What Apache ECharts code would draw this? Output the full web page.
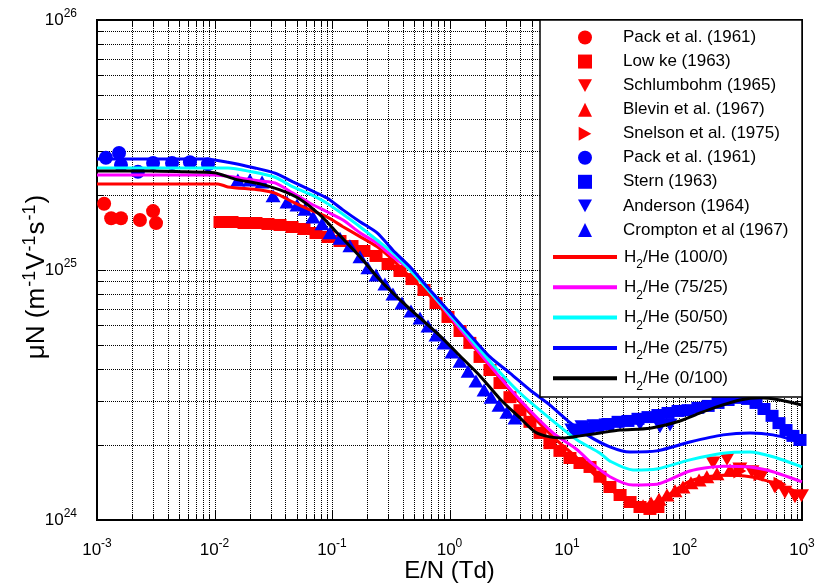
<!DOCTYPE html>
<html><head><meta charset="utf-8">
<script src="https://cdn.jsdelivr.net/npm/echarts@6/dist/echarts.min.js"></script>
<style>html,body{margin:0;padding:0;background:#fff}#c{width:817px;height:585px}</style>
</head><body><div id="c"></div>
<script>
// ---------- data (E/N in Td, muN in m^-1 V^-1 s^-1) ----------
const packRed = [[1.15e-3,1.84e25],[1.32e-3,1.61e25],[1.60e-3,1.61e25],[2.32e-3,1.585e25],[3.0e-3,1.72e25],[3.18e-3,1.54e25]];
const lowke = [[0.01114,1.556e25],[0.01409,1.556e25],[0.01782,1.542e25],[0.02254,1.542e25],[0.0285,1.528e25],[0.0361,1.514e25],[0.0457,1.486e25],[0.0578,1.459e25],[0.0731,1.406e25],[0.0925,1.355e25],[0.117,1.306e25],[0.148,1.247e25],[0.187,1.191e25],[0.237,1.138e25],[0.300,1.057e25],[0.379,9.91e24],[0.480,9.20e24],[0.607,8.32e24],[0.768,7.38e24],[0.971,6.49e24],[1.23,5.70e24],[1.49,5.11e24],[1.82,4.49e24],[2.21,3.98e24],[2.69,3.53e24],[3.27,3.10e24],[3.98,2.75e24],[4.84,2.47e24],[5.89,2.23e24],[7.16,2.03e24],[8.71,1.89e24],[10.6,1.77e24],[12.9,1.69e24],[15.7,1.63e24],[19.1,1.49e24],[23.2,1.355e24],[28.3,1.259e24],[34.4,1.18e24],[41.8,1.127e24],[50.8,1.107e24],[59.4,1.127e24]];
const schlumbohm = [[175,1.69e24],[230,1.75e24],[296,1.60e24],[375,1.56e24],[457,1.51e24],[589,1.355e24],[716,1.29e24],[871,1.24e24],[990,1.25e24]];
const blevin = [[44.4,1.14e24],[51.9,1.17e24],[60.7,1.21e24],[71.0,1.259e24],[83.0,1.31e24],[97.1,1.355e24],[113.5,1.41e24],[133,1.445e24],[155,1.49e24],[189,1.53e24],[244,1.585e24]];
const snelson = [[296,1.57e24],[439,1.53e24],[650,1.39e24]];
const packBlue = [[1.19e-3,2.81e25],[1.54e-3,2.94e25],[1.60e-3,2.63e25],[2.23e-3,2.47e25],[3.0e-3,2.68e25],[4.35e-3,2.68e25],[6.18e-3,2.70e25],[8.8e-3,2.65e25]];
const stern = [[12.4,2.29e24],[15.1,2.33e24],[18.4,2.38e24],[22.3,2.42e24],[27.2,2.47e24],[33.0,2.49e24],[40.2,2.54e24],[48.9,2.58e24],[59.4,2.63e24],[72.4,2.68e24],[88.1,2.73e24],[107,2.75e24],[130,2.81e24],[159,2.86e24],[193,2.94e24],[235,3.02e24],[285,3.08e24],[347,3.05e24],[406,2.94e24],[475,2.78e24],[556,2.61e24],[637,2.44e24],[731,2.29e24],[838,2.17e24],[962,2.09e24]];
const anderson = [[11.0,2.29e24],[13.4,2.36e24],[17.0,2.38e24],[21.5,2.40e24],[28.3,2.44e24],[41.8,2.42e24],[61.8,2.36e24],[75.3,2.40e24]];
const crompton = [[0.0158,2.29e25],[0.0200,2.29e25],[0.0254,2.25e25],[0.0315,1.98e25],[0.0414,1.87e25],[0.0504,1.82e25],[0.0589,1.75e25],[0.0689,1.63e25],[0.0822,1.53e25],[0.0962,1.41e25],[0.117,1.34e25],[0.142,1.25e25],[0.173,1.13e25],[0.202,1.02e25],[0.237,9.55e24],[0.282,8.79e24],[0.330,8.02e24],[0.394,7.38e24],[0.470,6.85e24],[0.561,6.43e24],[0.656,5.97e24],[0.768,5.50e24],[0.898,5.11e24],[1.05,4.70e24],[1.23,4.32e24],[1.44,3.94e24],[1.68,3.60e24],[1.97,3.31e24],[2.26,3.10e24],[2.64,2.88e24],[3.08,2.70e24],[3.61,2.56e24]];

const mix100 = [[1e-3,2.21e25],[0.0107,2.21e25],[0.0130,2.15e25],[0.0244,2.09e25],[0.0327,2.03e25],[0.0466,1.87e25],[0.065,1.74e25],[0.0906,1.63e25],[0.124,1.49e25],[0.173,1.36e25],[0.241,1.24e25],[0.330,1.096e25],[0.461,9.38e24],[0.682,7.87e24],[1.07,6.19e24],[2.08,4.25e24],[3.98,2.96e24],[7.6,2.15e24],[12.2,1.77e24],[19.1,1.445e24],[28.3,1.24e24],[41.8,1.148e24],[61.8,1.20e24],[111,1.43e24],[213,1.51e24],[361,1.49e24],[566,1.41e24],[1000,1.27e24]];
const mix75 = [[1e-3,2.40e25],[0.01,2.40e25],[0.0149,2.35e25],[0.0244,2.27e25],[0.0327,2.23e25],[0.0466,2.03e25],[0.065,1.85e25],[0.0906,1.71e25],[0.124,1.585e25],[0.173,1.41e25],[0.241,1.28e25],[0.330,1.13e25],[0.461,1.0e25],[0.682,8.17e24],[1.07,6.31e24],[2.08,4.29e24],[3.98,3.02e24],[7.6,2.23e24],[12.2,1.91e24],[15.7,1.71e24],[23.2,1.49e24],[36.5,1.38e24],[58.3,1.39e24],[111,1.57e24],[213,1.64e24],[361,1.63e24],[566,1.56e24],[1000,1.42e24]];
const mix50 = [[1e-3,2.56e25],[0.0083,2.56e25],[0.0130,2.56e25],[0.0208,2.47e25],[0.0327,2.35e25],[0.0466,2.15e25],[0.065,2.01e25],[0.0906,1.85e25],[0.124,1.67e25],[0.173,1.49e25],[0.241,1.318e25],[0.330,1.17e25],[0.461,1.0e25],[0.682,8.17e24],[1.07,6.43e24],[2.08,4.45e24],[3.98,3.22e24],[7.6,2.49e24],[12.2,2.09e24],[19.1,1.85e24],[23.2,1.72e24],[36.5,1.585e24],[58.3,1.60e24],[111,1.74e24],[213,1.85e24],[361,1.87e24],[566,1.79e24],[1000,1.63e24]];
const mix25 = [[1e-3,2.78e25],[0.0083,2.78e25],[0.0130,2.70e25],[0.0221,2.56e25],[0.0327,2.44e25],[0.0466,2.25e25],[0.065,2.09e25],[0.0906,1.94e25],[0.124,1.74e25],[0.173,1.56e25],[0.241,1.41e25],[0.330,1.20e25],[0.461,1.03e25],[0.682,8.32e24],[1.30,5.92e24],[2.21,4.49e24],[3.27,3.87e24],[4.84,3.31e24],[7.16,2.88e24],[10,2.51e24],[14.8,2.19e24],[23.2,1.96e24],[34.4,1.87e24],[58.3,1.89e24],[111,2.05e24],[213,2.19e24],[361,2.23e24],[566,2.19e24],[1000,2.05e24]];
const mix0 = [[1e-3,2.49e25],[2.83e-3,2.49e25],[5.61e-3,2.47e25],[0.01,2.45e25],[0.0149,2.31e25],[0.0244,2.21e25],[0.0361,2.09e25],[0.0534,1.92e25],[0.079,1.66e25],[0.117,1.37e25],[0.173,1.13e25],[0.256,9.12e24],[0.379,7.59e24],[0.561,6.43e24],[0.83,5.45e24],[1.23,4.53e24],[1.82,3.77e24],[2.69,3.05e24],[3.98,2.56e24],[5.35,2.25e24],[7.16,2.15e24],[9.6,2.13e24],[12.9,2.17e24],[19.1,2.23e24],[28.3,2.29e24],[50.8,2.33e24],[91.6,2.49e24],[136,2.68e24],[200,2.86e24],[296,3.02e24],[439,3.08e24],[650,3.02e24],[1000,2.88e24]];

const markerNames = ['Pack et al. (1961)','Low ke (1963)','Schlumbohm (1965)','Blevin et al. (1967)','Snelson et al. (1975)','Pack et al. (1961) ','Stern (1963)','Anderson (1964)','Crompton et al (1967)'];
const lineNames = ['H2/He (100/0)','H2/He (75/25)','H2/He (50/50)','H2/He (25/75)','H2/He (0/100)'];
const xDecades = [-3,-2,-1,0,1,2,3];
const yDecades = [24,25,26];
const gridMultipliers = [1,2,3,4,5,6,7,8,9];

// ---------- chart ----------
const FONT = '"Liberation Sans", Arial, Helvetica, sans-serif';
const RED = '#ff0000', BLUE = '#0000ff';
const TRI_DOWN = 'path://M0,0L20,0L10,18Z';
const TRI_RIGHT = 'path://M0,0L18,10L0,20Z';
const X_MIN = 1e-3, X_MAX = 1e3, Y_MIN = 1e24, Y_MAX = 1e26;

function gridVals(decades) {
  const out = [];
  for (let i = 0; i < decades.length - 1; i++) {
    gridMultipliers.forEach(m => out.push([m * Math.pow(10, decades[i]), m === 1 ? 1 : 0]));
  }
  out.push([Math.pow(10, decades[decades.length - 1]), 1]);
  return out;
}
const xGrid = gridVals(xDecades).map(d => [d[0], Y_MIN, d[1]]);
const yGrid = gridVals(yDecades).map(d => [X_MIN, d[0], d[1]]);

const dotStyle = {stroke: '#000', lineWidth: 1, lineDash: [1, 1]};
const tickStyle = {stroke: '#000', lineWidth: 1};

function xGridItem(params, api) {
  const cs = params.coordSys;
  const x = Math.round(api.coord([api.value(0), Y_MIN])[0]) + 0.5;
  const len = api.value(2) ? 9 : 6;
  const b = cs.y + cs.height, t = cs.y;
  return {type: 'group', children: [
    {type: 'line', shape: {x1: x, y1: t, x2: x, y2: b}, style: dotStyle},
    {type: 'line', shape: {x1: x, y1: b, x2: x, y2: b - len}, style: tickStyle},
    {type: 'line', shape: {x1: x, y1: t, x2: x, y2: t + len}, style: tickStyle}
  ]};
}
function yGridItem(params, api) {
  const cs = params.coordSys;
  const y = Math.round(api.coord([X_MIN, api.value(1)])[1]) + 0.5;
  const len = api.value(2) ? 9 : 6;
  const l = cs.x, r = cs.x + cs.width;
  return {type: 'group', children: [
    {type: 'line', shape: {x1: l, y1: y, x2: r, y2: y}, style: dotStyle},
    {type: 'line', shape: {x1: l, y1: y, x2: l + len, y2: y}, style: tickStyle},
    {type: 'line', shape: {x1: r, y1: y, x2: r - len, y2: y}, style: tickStyle}
  ]};
}

function sc(name, data, symbol, color, size) {
  return {name, type: 'scatter', data, symbol, symbolSize: size, itemStyle: {color, opacity: 1},
    z: 3, silent: true, emphasis: {disabled: true}};
}
function ln(name, data, color) {
  return {name, type: 'line', data, showSymbol: false, symbol: 'none', smooth: 0.25,
    lineStyle: {color, width: 3}, itemStyle: {color}, z: 4, silent: true, emphasis: {disabled: true}};
}

const labelRich = {
  b: {fontSize: 17, fontFamily: FONT, color: '#000'},
  s: {fontSize: 12, fontFamily: FONT, color: '#000', padding: [0, 0, 12, 0]}
};
const expFmt = v => '{b|10}{s|' + Math.round(Math.log10(v)) + '}';

const markerIcons = ['circle', 'rect', TRI_DOWN, 'triangle', TRI_RIGHT, 'circle', 'rect', TRI_DOWN, 'triangle'];
const lineColors = [RED, '#ff00ff', '#00ffff', BLUE, '#000000'];

const option = {
  animation: false,
  backgroundColor: '#fff',
  grid: {left: 97, right: 15, top: 20, bottom: 65, show: true, borderColor: '#000', borderWidth: 2,
    backgroundColor: 'transparent', containLabel: false, outerBoundsMode: 'none'},
  xAxis: {
    type: 'log', logBase: 10, min: X_MIN, max: X_MAX, splitNumber: 6,
    axisLine: {show: true, onZero: false, lineStyle: {color: '#000', width: 2}},
    axisTick: {show: false}, splitLine: {show: false},
    axisLabel: {formatter: expFmt, rich: labelRich, margin: 18, showMinLabel: true, showMaxLabel: true},
    name: 'E/N (Td)', nameLocation: 'middle', nameGap: 39, nameMoveOverlap: false,
    nameTextStyle: {fontSize: 24, fontFamily: FONT, color: '#000'}
  },
  yAxis: {
    type: 'log', logBase: 10, min: Y_MIN, max: Y_MAX, splitNumber: 2,
    axisLine: {show: true, onZero: false, lineStyle: {color: '#000', width: 2}},
    axisTick: {show: false}, splitLine: {show: false},
    axisLabel: {formatter: expFmt, rich: labelRich, margin: 20, showMinLabel: true, showMaxLabel: true},
    name: 'μN (m{s|-1}V{s|-1}s{s|-1})', nameLocation: 'middle', nameGap: 44, nameRotate: 90, nameMoveOverlap: false,
    nameTextStyle: {fontSize: 26, fontFamily: FONT, color: '#000', padding: [0, 14, 0, 0],
      rich: {s: {fontSize: 18, fontFamily: FONT, color: '#000', padding: [0, 1, 14, 1]}}}
  },
  legend: [
    {
      orient: 'vertical', left: 573, top: 24, itemWidth: 14, itemHeight: 14, itemGap: 7.05,
      selectedMode: false, z: 20,
      textStyle: {fontFamily: FONT, fontSize: 17, color: '#000', lineHeight: 16, padding: [0, 0, 0, 26]},
      data: markerNames.map((n, i) => ({name: n, icon: markerIcons[i]}))
    },
    {
      orient: 'vertical', left: 548, top: 238, itemWidth: 64, itemHeight: 4, itemGap: 2.3,
      selectedMode: false, z: 20,
      formatter: n => n.replace('H2', 'H{sub|2}'),
      textStyle: {fontFamily: FONT, fontSize: 17, color: '#000', lineHeight: 16, padding: [0, 0, 0, 2],
        rich: {sub: {fontFamily: FONT, fontSize: 12, color: '#000', lineHeight: 12, padding: [16, 0, 0, 0]}}},
      data: lineNames.map(n => ({name: n, icon: 'rect'}))
    }
  ],
  graphic: [
    {type: 'rect', shape: {x: 540, y: 20, width: 262, height: 377}, style: {fill: '#fff', stroke: '#000', lineWidth: 1.5}, z: 10, silent: true}
  ],
  series: [
    {type: 'custom', data: xGrid, renderItem: xGridItem, encode: {x: 0, y: 1}, z: 1, silent: true, clip: false},
    {type: 'custom', data: yGrid, renderItem: yGridItem, encode: {x: 0, y: 1}, z: 1, silent: true, clip: false},
    sc(markerNames[0], packRed, 'circle', RED, 14),
    sc(markerNames[1], lowke, 'rect', RED, [13, 12]),
    sc(markerNames[2], schlumbohm, TRI_DOWN, RED, [15, 13]),
    sc(markerNames[3], blevin, 'triangle', RED, [15, 13]),
    sc(markerNames[4], snelson, TRI_RIGHT, RED, [13, 15]),
    sc(markerNames[5], packBlue, 'circle', BLUE, 14),
    sc(markerNames[6], stern, 'rect', BLUE, [13, 12]),
    sc(markerNames[7], anderson, TRI_DOWN, BLUE, [15, 13]),
    sc(markerNames[8], crompton, 'triangle', BLUE, [15, 13]),
    ln(lineNames[0], mix100, lineColors[0]),
    ln(lineNames[1], mix75, lineColors[1]),
    ln(lineNames[2], mix50, lineColors[2]),
    ln(lineNames[3], mix25, lineColors[3]),
    ln(lineNames[4], mix0, lineColors[4])
  ]
};
const chart = echarts.init(document.getElementById('c'));
chart.setOption(option);
</script>
</body></html>
